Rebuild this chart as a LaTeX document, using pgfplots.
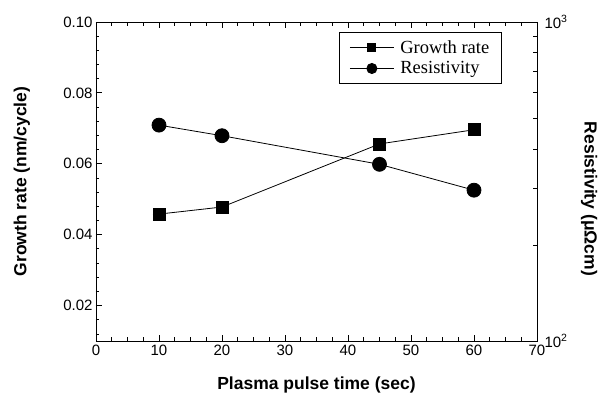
\documentclass[border=0pt]{standalone}
\usepackage{fontspec}
\setmainfont{Liberation Sans}
\newfontfamily\seriffont{Liberation Serif}
\usepackage{pgfplots}
\pgfplotsset{compat=1.18}
\pgfplotsset{
  myaxis/.style={
    scale only axis, width=441pt, height=319pt,
    axis line style={line width=0.9pt, black},
    tick label style={font=\fontsize{15}{18}\selectfont},
    label style={font=\fontsize{17.5}{20}\selectfont\bfseries},
    tick align=inside,
    major tick length=6pt, minor tick length=3.5pt,
    every tick/.style={black, line width=0.8pt},
  }
}
\begin{document}
\begin{tikzpicture}
\useasboundingbox (-96pt,-54pt) rectangle (504pt,341pt);
\begin{axis}[myaxis,
  clip=false,
  xmin=0, xmax=70, ymin=0.01, ymax=0.10,
  xtick={0,10,20,30,40,50,60,70},
  xticklabels={0,10,20,30,40,50,60,70},
  minor x tick num=3,
  ytick={0.02,0.04,0.06,0.08,0.10},
  yticklabels={0.02,0.04,0.06,0.08,0.10},
  minor y tick num=4,
  xtick pos=both, xticklabel pos=bottom,
  ytick pos=left,
  xlabel={Plasma pulse time (sec)},
  ylabel={Growth rate (nm/cycle)},
  xlabel style={at={(axis description cs:0.5,-0.138)}, anchor=center},
  ylabel style={at={(axis description cs:-0.168,0.5)}, anchor=center, rotate=0},
]
\addplot[black, line width=0.8pt, mark=square*, mark size=6pt,
  error bars/.cd, y dir=both, y explicit]
  coordinates {(10,0.0458) +- (0,0) (20,0.0478) +- (0,0) (45,0.0656) +- (0,0.0012) (60,0.0696) +- (0,0.0012)};
% tick marks drawn explicitly
\pgfplotsinvokeforeach{10,20,30,40,50,60}{
  \draw[black, line width=0.8pt] (axis cs:#1,0.01) -- ++(0pt,6pt);
  \draw[black, line width=0.8pt] (axis cs:#1,0.10) -- ++(0pt,-6pt);}
\pgfplotsinvokeforeach{2.5,5,7.5,12.5,15,17.5,22.5,25,27.5,32.5,35,37.5,42.5,45,47.5,52.5,55,57.5,62.5,65,67.5}{
  \draw[black, line width=0.8pt] (axis cs:#1,0.01) -- ++(0pt,3.5pt);
  \draw[black, line width=0.8pt] (axis cs:#1,0.10) -- ++(0pt,-3.5pt);}
\pgfplotsinvokeforeach{0.02,0.04,0.06,0.08}{
  \draw[black, line width=0.8pt] (axis cs:0,#1) -- ++(6pt,0pt);}
\pgfplotsinvokeforeach{0.012,0.016,0.024,0.028,0.032,0.036,0.044,0.048,0.052,0.056,0.064,0.068,0.072,0.076,0.084,0.088,0.092,0.096}{
  \draw[black, line width=0.8pt] (axis cs:0,#1) -- ++(3.5pt,0pt);}
\end{axis}
\begin{axis}[myaxis,
  clip=false,
  xmin=0, xmax=70, ymode=log, ymin=100, ymax=1000,
  hide x axis,
  ytick={100,1000},
  yticklabels={10\textsuperscript{2},10\textsuperscript{3}},
  yticklabel style={xshift=4pt},
  ytick pos=right, yticklabel pos=right,
  ylabel={Resistivity (μΩcm)},
  ylabel style={at={(axis description cs:1.118,0.445)}, anchor=center, rotate=180},
  legend style={at={(rel axis cs:0.551,0.969)}, anchor=north west,
    draw=black, line width=0.8pt, font=\seriffont\fontsize{18.5}{21}\selectfont,
    inner xsep=10pt, inner ysep=6pt, row sep=3pt,
    /tikz/every odd column/.append style={column sep=4pt}},
  legend cell align=left,
  legend image code/.code={\draw[#1, mark repeat=2, mark phase=2] plot coordinates {(0pt,0pt) (22pt,0pt) (44pt,0pt)};},
]
\addplot[black, line width=0.8pt, mark=*, mark size=7pt, forget plot]
  coordinates {(10,475) (20,440) (45,358) (60,297)};
\pgfplotsinvokeforeach{200,300,400,500,600,700,800,900}{
  \draw[black, line width=0.8pt] (axis cs:70,#1) -- ++(-3.5pt,0pt);}
\addlegendimage{black, line width=1pt, mark=square*, mark size=4pt}
\addlegendentry{Growth rate}
\addlegendimage{black, line width=1pt, mark=*, mark size=5pt}
\addlegendentry{Resistivity}
\end{axis}
\end{tikzpicture}
\end{document}
